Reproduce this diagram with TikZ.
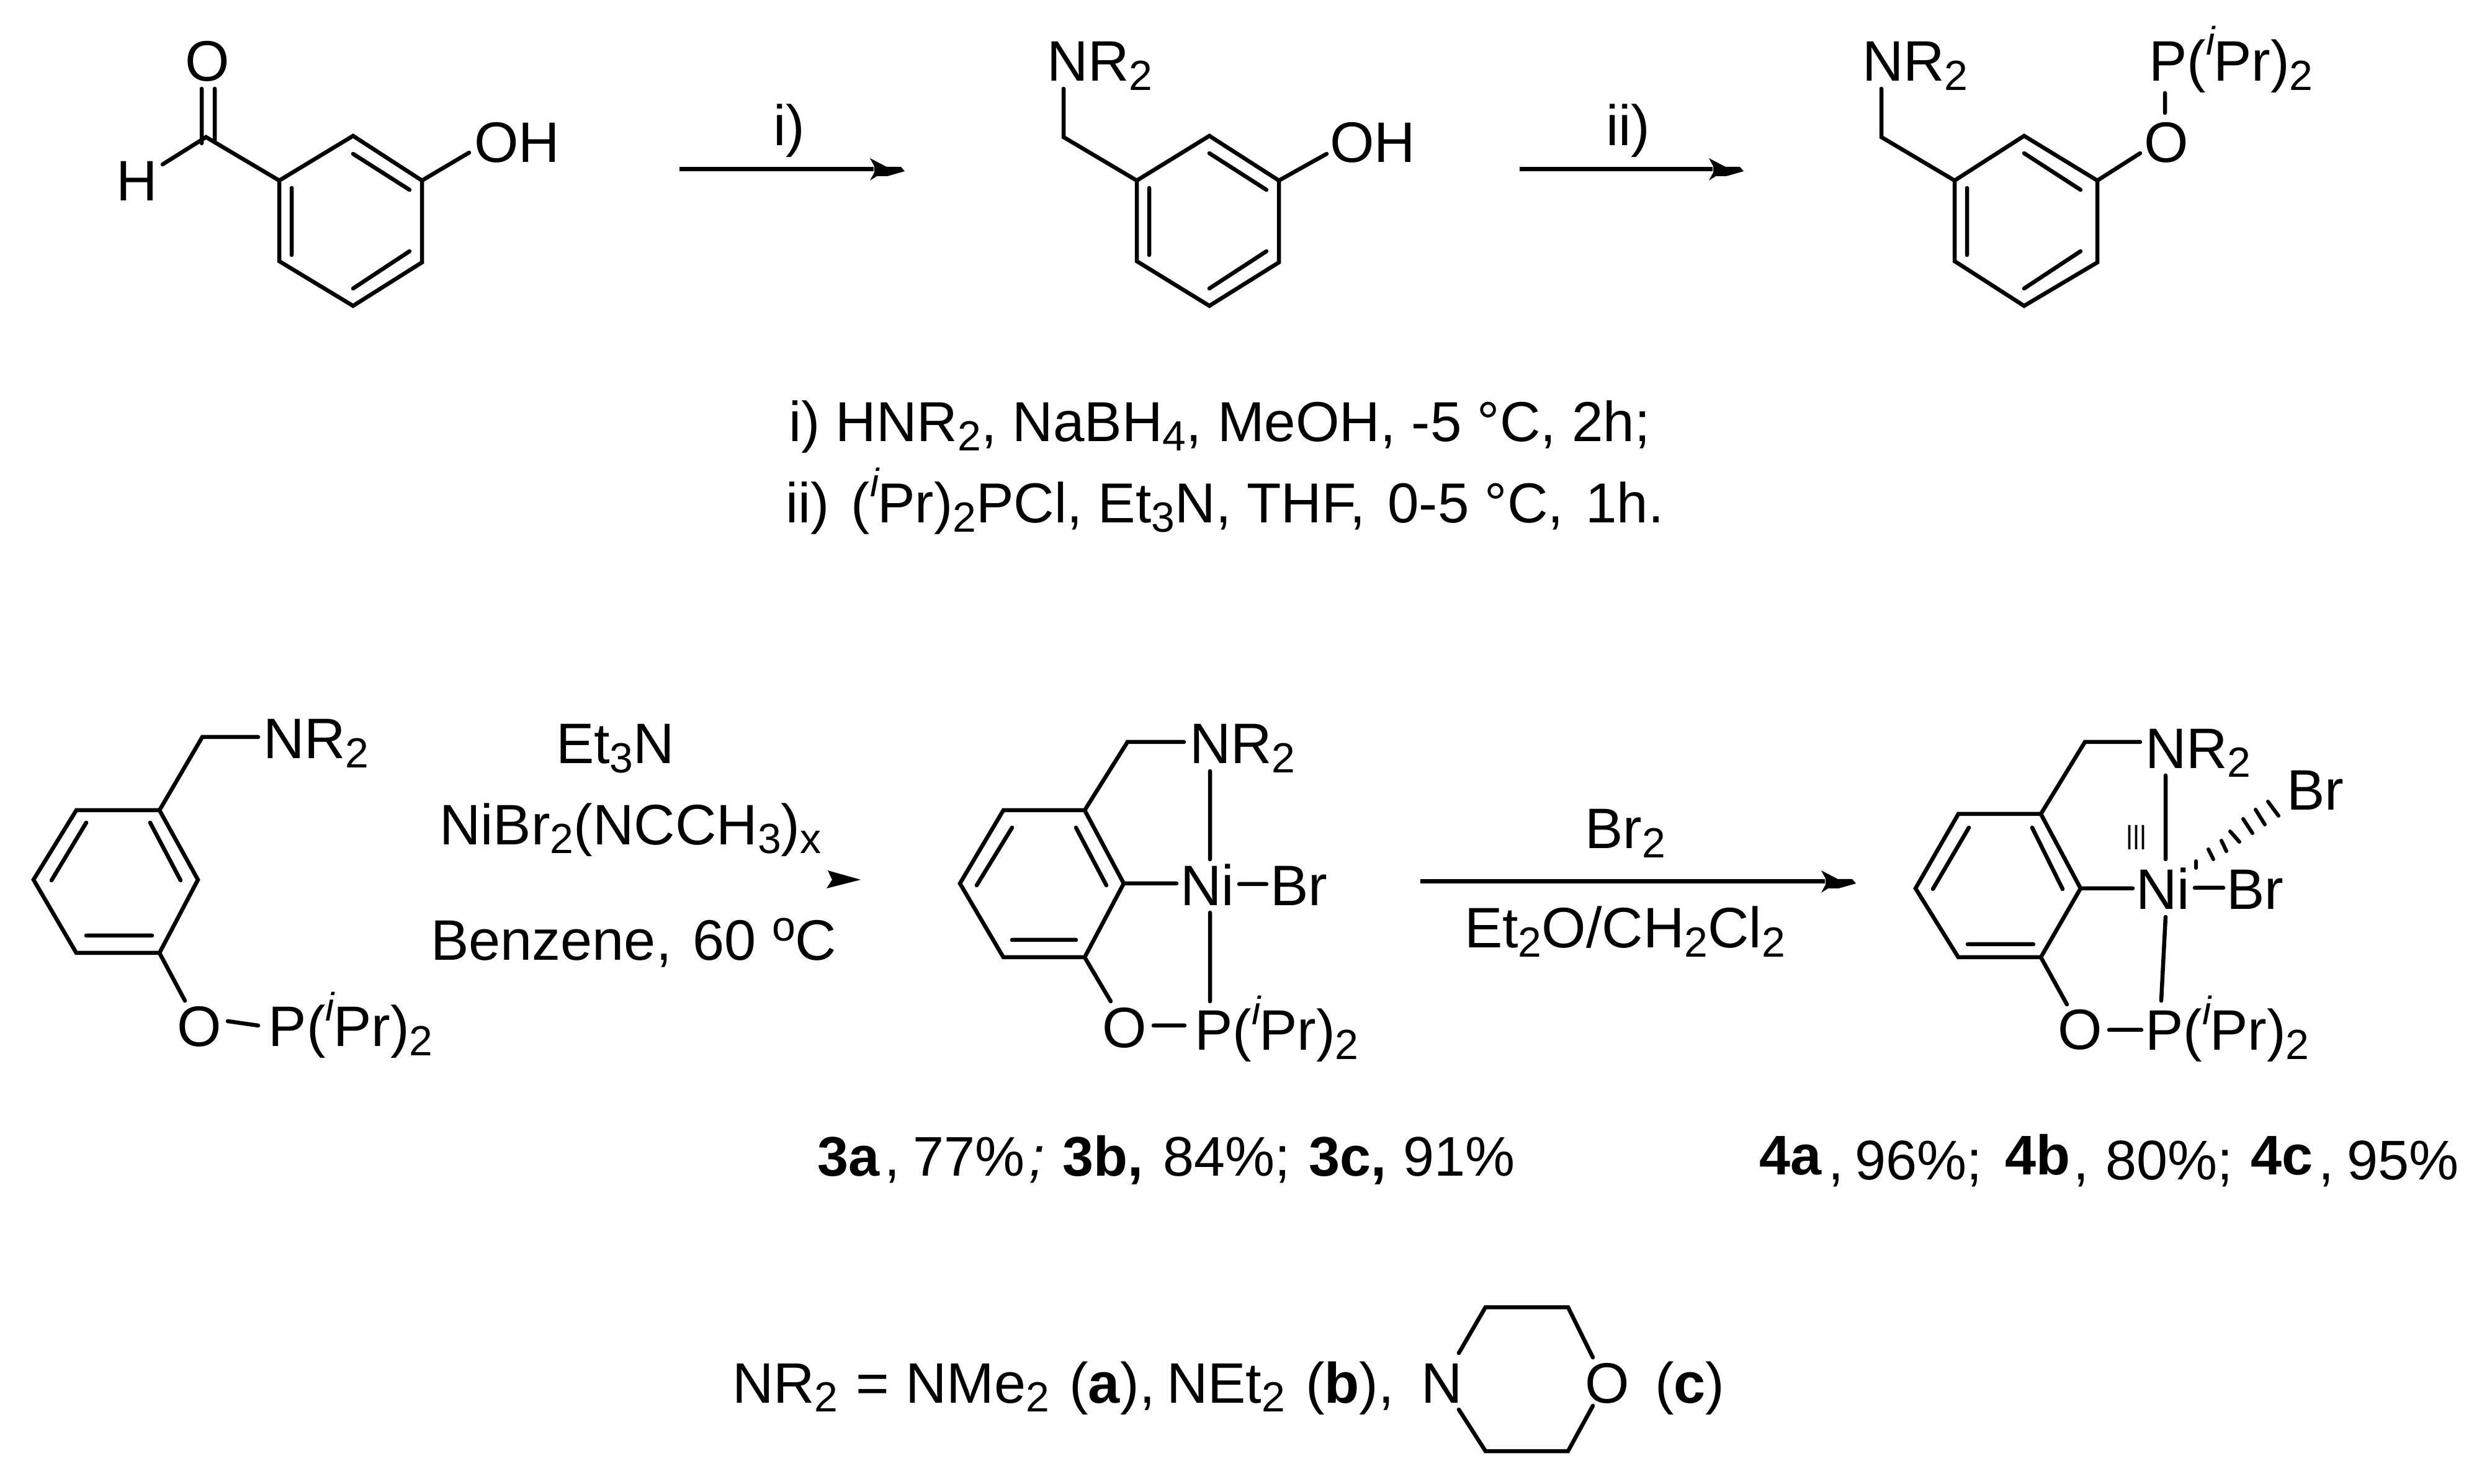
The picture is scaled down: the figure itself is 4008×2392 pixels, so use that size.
\documentclass[tikz,border=0pt]{standalone}
\usepackage{fontspec}
\setmainfont{Liberation Sans}
\newcommand{\subs}[1]{\raisebox{-1.5pt}{\fontsize{6.8}{7}\selectfont #1}}
\newcommand{\isup}{\raisebox{4.2pt}{\fontsize{6.4}{7}\selectfont\itshape i}\kern-0.2pt}
\newcommand{\PiPr}{P(\isup Pr)\subs{2}}
\newcommand{\NRt}{NR\subs{2}}
\tikzset{
  bond/.style={line width=0.65pt,line cap=round,line join=miter},
  shaft/.style={line width=0.7pt},
  lbl/.style={inner sep=0pt,outer sep=0pt,anchor=base west,xshift=-0.6pt,font=\fontsize{9.2}{10}\selectfont},
  ylbl/.style={lbl,xshift=0.8pt,font=\fontsize{9}{10}\selectfont},
  clbl/.style={lbl,xshift=0.5pt,font=\fontsize{9.08}{10}\selectfont},
  rxnhead/.pic={\fill[black] (0,-18)--(27,-4)--(50,-4)--(56,3)--(28,11)--(11,11)--(0,18)--(7,5)--(7,-5)--cycle;}
}
\begin{document}
\begin{tikzpicture}[x=0.1pt,y=-0.1pt]
\useasboundingbox (0,0) rectangle (4008,2392);
% --- molecule 1
\draw[bond] (450,291)--(569,219)--(680,291)--(680,423)--(569,493)--(450,421)--cycle;
\draw[bond] (470,303)--(470,411) (569,248)--(660,306) (660,405)--(569,465);
\draw[bond] (450,291)--(332,221)--(262,265) (325,143)--(325,231) (346,143)--(346,227) (680,291)--(756,246);
\node[lbl] (m1O) at (304,131) {O};
\node[lbl] (m1H) at (194,324) {H};
\node[lbl] (m1OH) at (770,262) {OH};
% arrow i
\coordinate (a1s) at (1095,273); \coordinate (a1e) at (1408,273);
\draw[shaft] (a1s)--(a1e);
\pic at (1402,273) {rxnhead};
\node[lbl] (t1) at (1252,235) {i)};
% --- molecule 2
\draw[bond] (1832,291)--(1949,219)--(2061,291)--(2061,423)--(1949,493)--(1832,421)--cycle;
\draw[bond] (1852,303)--(1852,411) (1949,247)--(2041,306) (2041,405)--(1949,465);
\draw[bond] (1714,143)--(1714,221)--(1832,291) (2061,291)--(2138,248);
\node[lbl] (m2N) at (1693,131) {\NRt};
\node[lbl] (m2OH) at (2149,262) {OH};
% arrow ii
\coordinate (a2s) at (2449,273); \coordinate (a2e) at (2760,273);
\draw[shaft] (a2s)--(a2e);
\pic at (2754,273) {rxnhead};
\node[lbl] (t2) at (2594,235) {ii)};
% --- molecule 3
\draw[bond] (3150,291)--(3262,219)--(3380,291)--(3380,423)--(3262,493)--(3150,421)--cycle;
\draw[bond] (3170,303)--(3170,411) (3262,247)--(3353,306) (3353,405)--(3262,465);
\draw[bond] (3032,143)--(3032,221)--(3150,291) (3380,291)--(3449,247) (3489,150)--(3489,182);
\node[lbl] (m3N) at (3007,131) {\NRt};
\node[lbl] (m3P) at (3469,131) {\PiPr};
\node[lbl] (m3O) at (3461,262) {O};
% --- conditions
\node[clbl] (c1) at (1272,712) {i) HNR\subs{2}, NaBH\subs{4}, MeOH, -5 °C, 2h;};
\node[clbl] (c2) at (1267,843) {ii)\kern1pt{} (\isup Pr)\subs{2}PCl, Et\subs{3}N, THF,\kern1pt{} 0-5 °C,\kern1pt{} 1h.};
% --- molecule 4
\draw[bond] (257,1306)--(123,1306)--(54,1418)--(123,1536)--(257,1536)--(319,1418)--cycle;
\draw[bond] (139,1326)--(83,1419) (242,1326)--(291,1419) (139,1508)--(245,1508);
\draw[bond] (257,1306)--(326,1188)--(416,1188) (257,1536)--(298,1613) (367,1646)--(416,1653);
\node[lbl] (m4N) at (430,1223) {\NRt};
\node[lbl] (m4O) at (291,1687) {O};
\node[lbl] (m4P) at (439,1687) {\PiPr};
\node[lbl] (r1) at (902,1231) {Et\subs{3}N};
\node[lbl] (r2) at (714,1361) {NiBr\subs{2}(NCCH\subs{3})\subs{x}};
\node[lbl] (r3) at (700,1548) {Benzene, \kern0.8pt{}60 \raisebox{3.2pt}{\fontsize{6.8}{7}\selectfont o}C};
\fill (1334,1403)--(1387,1418)--(1332,1432)--(1341,1418)--cycle;
% --- molecule 5
\draw[bond] (1748,1306)--(1617,1306)--(1547,1424)--(1617,1543)--(1748,1543)--(1811,1424)--cycle;
\draw[bond] (1631,1334)--(1574,1427) (1734,1334)--(1783,1427) (1631,1515)--(1734,1515);
\draw[bond] (1748,1306)--(1817,1196)--(1908,1196) (1811,1424)--(1896,1424) (1997,1425)--(2041,1425);
\draw[bond] (1950,1243)--(1950,1385) (1950,1471)--(1950,1614) (1748,1543)--(1790,1614) (1859,1653)--(1909,1653);
\node[lbl] (m5N) at (1923,1231) {\NRt};
\node[lbl] (m5Ni) at (1908,1459) {Ni};
\node[lbl] (m5Br) at (2053,1459) {Br};
\node[lbl] (m5O) at (1782,1688) {O};
\node[lbl] (m5P) at (1931,1693) {\PiPr};
% arrow 3
\coordinate (a3s) at (2289,1421); \coordinate (a3e) at (2941,1421);
\draw[shaft] (a3s)--(a3e);
\pic at (2935,1421) {rxnhead};
\node[lbl] (r4) at (2560,1368) {Br\subs{2}};
\node[lbl] (r5) at (2366,1528) {Et\subs{2}O/CH\subs{2}Cl\subs{2}};
% --- molecule 6
\draw[bond] (3289,1312)--(3156,1312)--(3087,1432)--(3156,1543)--(3289,1543)--(3353,1432)--cycle;
\draw[bond] (3173,1334)--(3115,1433) (3275,1334)--(3324,1433) (3171,1522)--(3277,1522);
\draw[bond] (3289,1312)--(3360,1196)--(3449,1196) (3353,1432)--(3437,1432) (3537,1431)--(3583,1431);
\draw[bond] (3490,1250)--(3490,1385) (3490,1478)--(3483,1613) (3289,1543)--(3331,1619) (3399,1660)--(3451,1660);
\draw[bond,line width=0.6pt] (3539,1388)--(3539,1399) (3559,1369)--(3567,1385) (3580,1355)--(3588,1372) (3594,1340)--(3609,1357) (3615,1320)--(3630,1343) (3635,1305)--(3650,1329) (3655,1292)--(3672,1315);
\node[lbl] (m6N) at (3463,1238) {\NRt};
\node[lbl,xshift=0.6pt,font=\fontsize{5.7}{6}\selectfont] (m6III) at (3426,1370) {\scalebox{0.7}[1]{III}};
\node[lbl] (m6Ni) at (3448,1466) {Ni};
\node[lbl] (m6Br) at (3594,1466) {Br};
\node[lbl] (m6Brt) at (3691,1306) {Br};
\node[lbl] (m6O) at (3322,1692) {O};
\node[lbl] (m6P) at (3463,1693) {\PiPr};
% --- yields 3
\node[ylbl] (y1) at (1315,1895) {\bfseries 3a};
\node[ylbl] (y2) at (1423,1895) {,};
\node[ylbl] (y3) at (1469,1895) {77\%};
\node[ylbl] (y4) at (1656,1895) {\itshape ;};
\node[ylbl] (y5) at (1710,1895) {\bfseries 3b,};
\node[ylbl] (y6) at (1872,1895) {84\%;};
\node[ylbl] (y7) at (2107,1895) {\bfseries 3c,};
\node[ylbl] (y8) at (2259,1895) {91\%};
% --- yields 4
\node[ylbl] (z1) at (2833,1894) {\bfseries 4a};
\node[ylbl] (z2) at (2944,1902) {,};
\node[ylbl] (z3) at (2987,1902) {96\%;};
\node[ylbl] (z4) at (3229,1894) {\bfseries 4b};
\node[ylbl] (z5) at (3339,1902) {,};
\node[ylbl] (z6) at (3391,1902) {80\%;};
\node[ylbl] (z7) at (3625,1894) {\bfseries 4c};
\node[ylbl] (z8) at (3734,1902) {,};
\node[ylbl] (z9) at (3780,1902) {95\%};
% --- legend
\node[lbl] (l1) at (1186,2261) {\NRt};
\node[lbl] (l2) at (1385,2261) {=};
\node[lbl] (l3) at (1465,2261) {NMe\subs{2}};
\node[lbl] (l4) at (1729,2261) {(\textbf{a}),};
\node[lbl] (l5) at (1886,2261) {NEt\subs{2}};
\node[lbl] (l6) at (2110,2261) {(\textbf{b}),};
\node[lbl] (l7) at (2296,2261) {N};
\node[lbl] (l8) at (2560,2261) {O};
\node[lbl] (l9) at (2673,2261) {(\textbf{c})};
\draw[bond] (2351,2181)--(2394,2107)--(2527,2107)--(2567,2188);
\draw[bond] (2351,2272)--(2394,2339)--(2527,2339)--(2567,2266);
\end{tikzpicture}
\end{document}
